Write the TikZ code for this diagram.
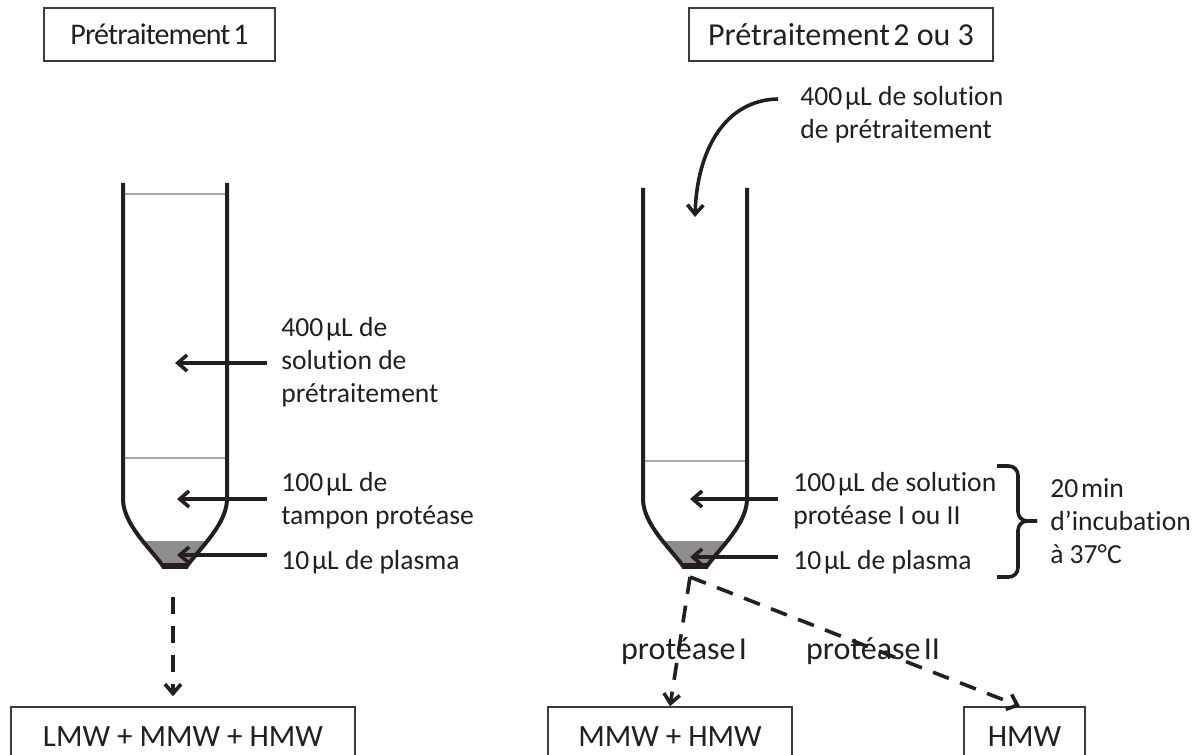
\documentclass[tikz,border=0pt]{standalone}
\usepackage{fontspec}
\setmainfont{Carlito}[Ligatures={NoCommon,NoContextual}, Contextuals=NoAlternate]
\newfontfamily\tightfont{Carlito}[LetterSpace=-2.9, Ligatures={NoCommon,NoContextual}, Contextuals=NoAlternate]
\usetikzlibrary{arrows.meta}

\definecolor{ink}{HTML}{231F20}
\definecolor{boxline}{HTML}{3C3C3C}
\definecolor{liquid}{HTML}{8E8E8E}
\definecolor{meniscus}{HTML}{A8A8A8}

% narrow space used between numbers and units
\newcommand{\tsp}{\hspace{0.1em}}
\newcommand{\fsSide}{\fontsize{20.7}{24.75}\selectfont}
\newcommand{\fsHeadA}{\tightfont\fontsize{22.5}{27}\selectfont}
\newcommand{\fsHeadB}{\fontsize{24}{28}\selectfont}
\newcommand{\fsResult}{\fontsize{23.25}{27}\selectfont}
\newcommand{\fsEnzyme}{\fontsize{24}{28}\selectfont}

\begin{document}
\begin{tikzpicture}[x=0.75pt,y=-0.75pt,
  txt/.style={font=\fsSide, text=ink, inner sep=0pt, align=left, anchor=west},
  enz/.style={font=\fsEnzyme, text=ink, inner sep=0pt},
  titlebox/.style={draw=boxline, line width=1.1pt, text=ink, minimum height=39.75pt, inner sep=0pt},
  resultbox/.style={draw=boxline, line width=1.1pt, text=ink, font=\fsResult, minimum height=45pt, inner sep=0pt},
  wall/.style={draw=ink, line width=3pt},
  meniscusline/.style={draw=meniscus, line width=1.6pt},
  ptr/.style={draw=ink, line width=2.7pt, -{Straight Barb[length=7pt,width=12pt]}},
  dsh/.style={ptr, dash pattern=on 12.75pt off 9pt},
  bracket/.style={draw=ink, line width=2.7pt, rounded corners=7pt},
]
\useasboundingbox (0,0) rectangle (1201,755);
\clip (0,0) rectangle (1201,755);

% ---------- title boxes ----------
\node[titlebox, font=\fsHeadA, minimum width=173.25pt] (pre1) at (159.5,34.5) {Prétraitement\tsp1};
\node[titlebox, font=\fsHeadB, minimum width=228pt] (pre2) at (841,34.5) {Prétraitement\tsp2 ou 3};

% ---------- tube 1 ----------
\begin{scope}
  \clip (123,183) -- (123,500) .. controls (124,525) and (150,548) .. (163,566)
        -- (187,566) .. controls (200,548) and (226,525) .. (227,500) -- (227,183) -- cycle;
  \fill[liquid] (100,541) rectangle (250,580);
\end{scope}
\draw[meniscusline] (124,194) -- (226,194);
\draw[meniscusline] (124,458) -- (226,458);
\draw[wall] (123,183) -- (123,500) .. controls (124,525) and (150,548) .. (163,566)
      -- (187,566) .. controls (200,548) and (226,525) .. (227,500) -- (227,183);
\fill[ink] (162,563) rectangle (188,569);

% ---------- tube 2 ----------
\begin{scope}[shift={(520,0)}]
  \begin{scope}
    \clip (123,188) -- (123,500) .. controls (124,525) and (150,548) .. (163,566)
          -- (187,566) .. controls (200,548) and (226,525) .. (227,500) -- (227,188) -- cycle;
    \fill[liquid] (100,541) rectangle (250,580);
  \end{scope}
  \draw[meniscusline] (124,461) -- (226,461);
  \draw[wall] (123,188) -- (123,500) .. controls (124,525) and (150,548) .. (163,566)
        -- (187,566) .. controls (200,548) and (226,525) .. (227,500) -- (227,188);
  \fill[ink] (162,563) rectangle (188,569);
\end{scope}

% ---------- labels, tube 1 ----------
\node[txt] (l400) at (281,362) {400\tsp µL de\\solution de\\prétraitement};
\node[txt] (l100) at (281,501) {100\tsp µL de\\tampon protéase};
\node[txt] (l10) at (281,562) {10\tsp µL de plasma};

\coordinate (t1a) at (175,363);
\coordinate (t1b) at (177,499);
\coordinate (t1c) at (177,555);
\draw[ptr, shorten <=10.5pt] (l400.west |- t1a) -- (t1a);
\draw[ptr, shorten <=10.5pt] (l100.west |- t1b) -- (t1b);
\draw[ptr, shorten <=10.5pt] (l10.west |- t1c) -- (t1c);

% ---------- labels, tube 2 ----------
\node[txt] (r400) at (800,115) {400\tsp µL de solution\\de prétraitement};
\node[txt] (r100) at (793,501) {100\tsp µL de solution\\protéase I ou II};
\node[txt] (r10) at (793,562) {10\tsp µL de plasma};
\node[txt] (incub) at (1050,521) {20\tsp min\\d’incubation\\à 37°C};

\coordinate (t2b) at (690,499);
\coordinate (t2c) at (690,557);
\draw[ptr, shorten <=11pt] (r100.west |- t2b) -- (t2b);
\draw[ptr, shorten <=11pt] (r10.west |- t2c) -- (t2c);

% pouring arrow
\coordinate (pour) at (778,99);
\coordinate (drop) at (695,217);
\draw[ptr] (pour) .. controls (725,100) and (697,150) .. (drop);

% bracket grouping the two volumes
\coordinate (brtip) at (1037,521);
\draw[bracket] (997,466) -- (1018,466) -- (1018,521) -- (brtip);
\draw[bracket] (997,577) -- (1018,577) -- (1018,521) -- (brtip);

% ---------- result boxes ----------
\node[resultbox, minimum width=258pt] (lmw) at (183,737) {LMW + MMW + HMW};
\node[resultbox, minimum width=183pt] (mmw) at (670,737) {MMW + HMW};
\node[resultbox, minimum width=90.75pt] (hmw) at (1024.5,737) {HMW};

% ---------- digestion paths ----------
\coordinate (b1) at (173,597);
\draw[dsh, shorten >=7.5pt] (b1) -- (b1 |- lmw.north);
\coordinate (b2) at (690,577);
\draw[dsh] (b2) -- (mmw.north);
\draw[dsh] (b2) -- ([xshift=-3.4pt]hmw.north);

\node[enz] (pI) at (684,651) {protéase\tsp I};
\node[enz] (pII) at (873,651) {protéase\tsp II};
\end{tikzpicture}
\end{document}
